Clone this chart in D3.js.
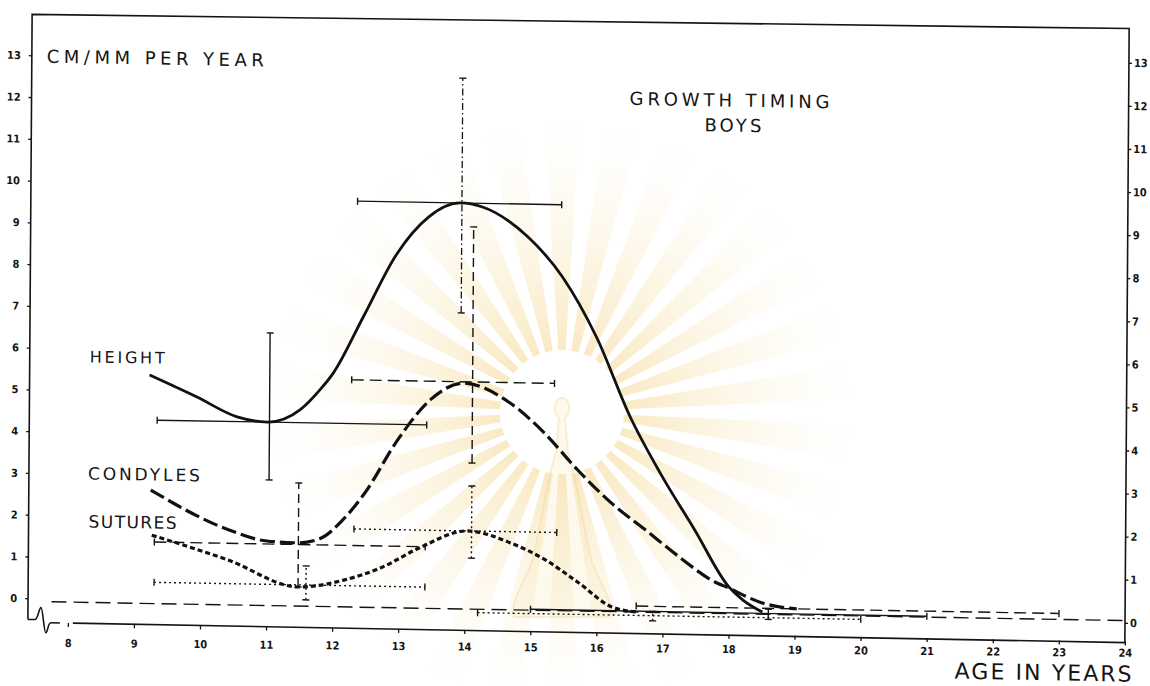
<!DOCTYPE html>
<html>
<head>
<meta charset="utf-8">
<script src="https://cdn.jsdelivr.net/npm/d3@7"></script>
<style>
  body { margin: 0; background: #fff; }
  text { font-family: "DejaVu Sans", sans-serif; fill: #141414; }
  .tick text { font-family: "DejaVu Sans Condensed", "DejaVu Sans", sans-serif; font-weight: bold; font-size: 11px; }
</style>
</head>
<body>
<div id="visContainer"></div>
<script>
// ages on the x axis, cm/mm per year on the y axis
const xTicks = [8, 9, 10, 11, 12, 13, 14, 15, 16, 17, 18, 19, 20, 21, 22, 23, 24];
const yTicks = [0, 1, 2, 3, 4, 5, 6, 7, 8, 9, 10, 11, 12, 13];

// curves: [age, value]
const heightCurve = [
  [9.21, 5.38], [9.93, 4.88], [10.54, 4.43], [11.0, 4.32], [11.49, 4.62],
  [11.79, 5.10], [11.99, 5.50], [12.44, 6.84], [12.93, 8.31], [13.42, 9.22],
  [13.9, 9.56], [14.22, 9.48], [14.92, 8.79], [15.45, 7.86], [15.97, 6.46],
  [16.49, 4.59], [16.95, 3.28], [17.48, 1.95], [18.0, 0.63], [18.21, 0.33], [18.51, 0.05]
];
const condylesCurve = [
  [9.24, 2.67], [10.42, 1.77], [11.0, 1.52], [11.48, 1.49], [11.81, 1.6],
  [12.15, 2.05], [12.48, 2.69], [12.97, 3.95], [13.46, 4.91], [13.97, 5.32],
  [14.67, 4.87], [15.19, 4.18], [15.70, 3.32], [16.21, 2.56], [16.73, 1.94],
  [17.25, 1.31], [17.74, 0.78], [18.0, 0.60], [18.52, 0.26], [19.03, 0.14]
];
const suturesCurve = [
  [9.26, 1.61], [10.43, 1.05], [11.48, 0.45], [12.17, 0.63], [12.75, 0.95],
  [13.31, 1.42], [14.04, 1.84], [14.70, 1.57], [15.22, 1.19], [15.73, 0.66],
  [16.23, 0.11], [16.6, 0.0]
];

// horizontal bars [from age, to age, value], vertical bars [age, low, high]
const heightHBars = [[9.33, 13.41, 4.32], [12.34, 15.43, 9.56], [15.0, 21.0, 0.02]];
const heightVBars = [[11.03, 2.96, 6.42], [13.92, 6.97, 12.5], [18.6, -0.12, 0.12]];
const condylesHBars = [[9.3, 13.4, 1.45], [12.27, 15.34, 5.35], [16.6, 23.0, 0.14]];
const condylesVBars = [[11.48, 0.45, 2.9], [14.1, 3.44, 9.0]];
const suturesHBars = [[9.3, 13.4, 0.5], [12.32, 15.39, 1.84], [14.2, 20.0, -0.08]];
const suturesVBars = [[11.6, 0.15, 0.95], [14.1, 1.2, 2.9], [16.85, -0.2, 0.02]];

const width = 1150;
const height = 686;

const svg = d3.select("#visContainer").append("svg")
  .attr("width", width)
  .attr("height", height);

// faint watermark of the scanned page
const defs = svg.append("defs");
const grad = defs.append("radialGradient").attr("id", "rays")
  .attr("gradientUnits", "userSpaceOnUse")
  .attr("cx", 0).attr("cy", 0).attr("r", 290);
grad.append("stop").attr("offset", "0.2").attr("stop-color", "#f0c867").attr("stop-opacity", 0.4);
grad.append("stop").attr("offset", "0.6").attr("stop-color", "#f6dd9c").attr("stop-opacity", 0.22);
grad.append("stop").attr("offset", "1").attr("stop-color", "#fbeccc").attr("stop-opacity", 0);
const wm = svg.append("g").attr("transform", "translate(562,412)");
for (let i = 0; i < 30; i++) {
  const a = i / 30 * 2 * Math.PI;
  wm.append("path")
    .attr("d", d3.arc()({innerRadius: 62, outerRadius: 290, startAngle: a - 0.06, endAngle: a + 0.06}))
    .attr("fill", "url(#rays)");
}
// pale crown-like column of the emblem
wm.append("path")
  .attr("d", "M0,-14 C9,-14 9,2 3,6 L6,40 C16,70 22,120 30,150 C40,175 52,190 48,205 L-48,205 C-52,190 -40,175 -30,150 C-22,120 -16,70 -6,40 L-3,6 C-9,2 -9,-14 0,-14 Z")
  .attr("fill", "#f6e3ad").attr("fill-opacity", 0.22)
  .attr("stroke", "#eccf83").attr("stroke-opacity", 0.3).attr("stroke-width", 2);

// the scan is slightly skewed, so draw everything in a skewed group
const g = svg.append("g").attr("transform", "matrix(1,0.0175,-0.007,1,2.3,-10.15)");

const x = d3.scaleLinear().domain([8, 24]).range([70, 1127]);
const y = d3.scaleLinear().domain([0, 13]).range([611, 59]);

// frame, with the broken-axis mark at the lower left
g.append("path")
  .attr("d", "M30,629 L30,24 L1127,19 L1127,633 L75,632 M30,629 L37,629 C40,629 41,617 43,617 C45,617 46,642 48,642 C50,642 50,632 53,632 L62,632")
  .attr("fill", "none").attr("stroke", "#141414").attr("stroke-width", 1.6);

// axes (label rows follow the small distortions of the scan)
g.append("g").attr("transform", "translate(0,632)")
  .call(d3.axisBottom(x).tickValues(xTicks).tickSize(4).tickFormat(""))
  .call(a => a.select(".domain").remove());
g.append("g").attr("transform", "matrix(1,-0.0081,0,1,0,648.6)")
  .call(d3.axisBottom(x).tickValues(xTicks).tickSize(0).tickPadding(0).tickFormat(d3.format("d")))
  .call(a => a.select(".domain").remove());
g.append("g").attr("transform", "translate(30,6.87) scale(1,0.9837)")
  .call(d3.axisLeft(y).tickValues(yTicks).tickSize(3).tickPadding(8))
  .call(a => a.select(".domain").remove());
g.append("g").attr("transform", "translate(1127,-6.66) scale(1,1.0145)")
  .call(d3.axisRight(y).tickValues(yTicks).tickSize(3).tickPadding(2))
  .call(a => a.select(".domain").remove());
g.selectAll(".tick line").attr("stroke", "#141414").attr("stroke-width", 1.3);
g.selectAll(".tick text").attr("fill", "#141414");

// zero line
g.append("line")
  .attr("x1", x(7.75)).attr("x2", x(24)).attr("y1", y(0)).attr("y2", y(0))
  .attr("stroke", "#141414").attr("stroke-width", 1.4).attr("stroke-dasharray", "15,7");

function hBars(bars, dash, w) {
  bars.forEach(b => {
    g.append("line").attr("x1", x(b[0])).attr("x2", x(b[1])).attr("y1", y(b[2])).attr("y2", y(b[2]))
      .attr("stroke", "#141414").attr("stroke-width", w).attr("stroke-dasharray", dash);
    [b[0], b[1]].forEach(e => {
      g.append("line").attr("x1", x(e)).attr("x2", x(e)).attr("y1", y(b[2]) - 3.5).attr("y2", y(b[2]) + 3.5)
        .attr("stroke", "#141414").attr("stroke-width", 1.4);
    });
  });
}
function vBars(bars, dash, w) {
  bars.forEach(b => {
    g.append("line").attr("x1", x(b[0])).attr("x2", x(b[0])).attr("y1", y(b[1])).attr("y2", y(b[2]))
      .attr("stroke", "#141414").attr("stroke-width", w).attr("stroke-dasharray", dash);
    [b[1], b[2]].forEach(e => {
      g.append("line").attr("x1", x(b[0]) - 3.5).attr("x2", x(b[0]) + 3.5).attr("y1", y(e)).attr("y2", y(e))
        .attr("stroke", "#141414").attr("stroke-width", 1.4);
    });
  });
}

hBars(heightHBars, null, 1.4);
vBars([heightVBars[0], heightVBars[2]], null, 1.4);
vBars([heightVBars[1]], "7,3,1.5,3", 1.3);
hBars(condylesHBars, "12,6", 1.4);
vBars(condylesVBars, "9,5", 1.4);
hBars(suturesHBars, "2,3", 1.4);
vBars(suturesVBars, "2,3", 1.4);

// curves
const line = d3.line().x(d => x(d[0])).y(d => y(d[1])).curve(d3.curveMonotoneX);
g.append("path").datum(heightCurve).attr("d", line)
  .attr("fill", "none").attr("stroke", "#111").attr("stroke-width", 2.8);
g.append("path").datum(condylesCurve).attr("d", line)
  .attr("fill", "none").attr("stroke", "#111").attr("stroke-width", 3.2).attr("stroke-dasharray", "15,5");
g.append("path").datum(suturesCurve).attr("d", line)
  .attr("fill", "none").attr("stroke", "#111").attr("stroke-width", 3.2).attr("stroke-dasharray", "5,3");

// labels
function label(t, x0, yb, w, size) {
  g.append("text").attr("x", x0).attr("y", yb).attr("font-size", size)
    .attr("textLength", w).attr("lengthAdjust", "spacing").text(t);
}
label("CM/MM PER YEAR", 45, 72, 217, 18);
label("GROWTH  TIMING", 628, 104, 200, 18);
label("BOYS", 703, 129, 57, 18);
label("HEIGHT", 90, 371, 75, 16);
label("CONDYLES", 89, 488, 112, 17);
label("SUTURES", 90, 536, 88, 17);
label("AGE  IN  YEARS", 957, 672, 177, 22);
</script>
</body>
</html>
